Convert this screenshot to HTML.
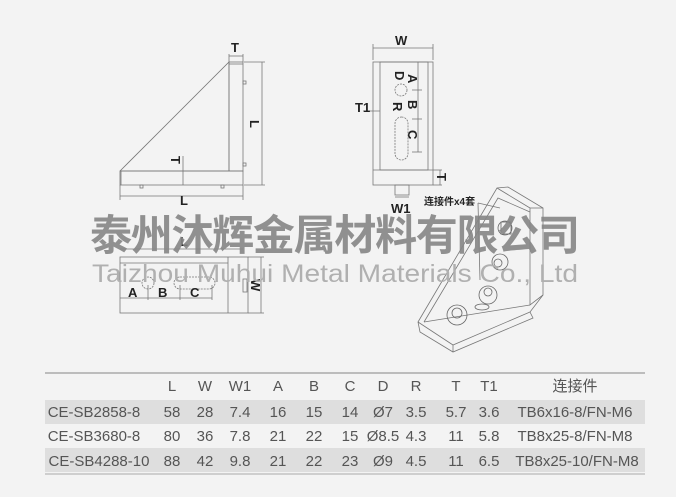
<!DOCTYPE html>
<html><head><meta charset="utf-8"><style>
html,body{margin:0;padding:0;background:#f3f3f3;}
svg{display:block;font-family:"Liberation Sans","Noto Sans CJK SC",sans-serif;}
</style></head><body>
<svg width="676" height="497" viewBox="0 0 676 497" xmlns="http://www.w3.org/2000/svg">
<rect width="676" height="497" fill="#f3f3f3"/>
<g stroke="#777" stroke-width="0.8" fill="none">
<polyline points="120,171 229,62 229,171 120,171"/>
<rect x="120" y="171" width="123" height="14"/>
<rect x="229" y="62" width="14" height="109"/>
<line x1="229" y1="64" x2="243" y2="64"/>
<line x1="121" y1="171" x2="121" y2="185"/>
<rect x="140" y="185" width="3" height="3"/><rect x="221" y="185" width="3" height="3"/>
<rect x="243" y="81" width="3" height="3"/><rect x="243" y="163" width="3" height="3"/>
<line x1="229" y1="56" x2="243" y2="56"/><line x1="229" y1="54" x2="229" y2="62"/><line x1="243" y1="54" x2="243" y2="62"/>
<line x1="244" y1="62" x2="265" y2="62"/><line x1="244" y1="185" x2="265" y2="185"/>
<line x1="262" y1="62" x2="262" y2="185"/>
<line x1="183" y1="156" x2="183" y2="185"/>
<line x1="120" y1="185" x2="120" y2="200"/><line x1="243" y1="185" x2="243" y2="200"/>
<line x1="120" y1="196" x2="243" y2="196"/>
<rect x="120" y="257" width="128" height="56"/>
<line x1="120" y1="263" x2="228" y2="263"/>
<line x1="228" y1="257" x2="228" y2="313"/>
<rect x="243" y="279" width="4" height="13"/>
<line x1="120" y1="249" x2="243" y2="249"/>
<line x1="248" y1="257" x2="264" y2="257"/><line x1="248" y1="313" x2="264" y2="313"/>
<line x1="261" y1="257" x2="261" y2="313"/>
<circle cx="148" cy="283" r="6" stroke-dasharray="2,1"/>
<rect x="174" y="277" width="41" height="12" rx="6" stroke-dasharray="2,1"/>
<line x1="120" y1="298" x2="212" y2="298"/>
<line x1="148" y1="285" x2="148" y2="300"/><line x1="180" y1="285" x2="180" y2="300"/><line x1="212" y1="285" x2="212" y2="300"/>
<rect x="373" y="62" width="60" height="123"/>
<rect x="380" y="62" width="48" height="108"/>
<line x1="373" y1="170" x2="433" y2="170"/>
<rect x="395" y="185" width="14" height="10"/>
<line x1="373" y1="48" x2="433" y2="48"/><line x1="373" y1="44" x2="373" y2="60"/><line x1="433" y1="44" x2="433" y2="60"/>
<circle cx="401" cy="90" r="6" stroke-dasharray="2,1"/>
<rect x="395" y="117" width="13" height="43" rx="6.5" stroke-dasharray="2,1"/>
<line x1="418" y1="62" x2="418" y2="152"/>
<line x1="412" y1="90" x2="422" y2="90"/><line x1="412" y1="119" x2="422" y2="119"/><line x1="412" y1="152" x2="422" y2="152"/>
<line x1="363" y1="111" x2="380" y2="111"/>
<line x1="433" y1="170" x2="442" y2="170"/><line x1="433" y1="185" x2="442" y2="185"/><line x1="440" y1="170" x2="440" y2="185"/>
<line x1="395" y1="197" x2="409" y2="197"/>
<polygon points="418,322 497,188 508,187 543,208 543,295 530,312 533,318 453,352 420,332"/>
<polyline points="418,322 453,345 530,312"/>
<polyline points="453,345 453,352"/>
<polyline points="497,188 530,208 530,305 543,295"/>
<line x1="530" y1="208" x2="543" y2="208"/>
<polyline points="424,322 498,198 530,212"/>
<line x1="424" y1="322" x2="530" y2="305"/>
<line x1="478" y1="203" x2="500" y2="208"/>
<line x1="478" y1="203" x2="480" y2="280"/>
<g stroke="#666">
<circle cx="505" cy="228" r="7"/><rect x="501" y="222" width="10" height="12"/>
<circle cx="500" cy="262" r="8"/><circle cx="498" cy="263" r="4"/>
<circle cx="488" cy="295" r="9"/><circle cx="488" cy="292" r="4"/>
<circle cx="457" cy="315" r="10"/><circle cx="457" cy="313" r="5"/>
<ellipse cx="482" cy="307" rx="7" ry="3"/>
</g>
</g>
<g font-size="13" fill="#222" font-weight="bold">
<text x="231" y="52">T</text>
<text x="250" y="130" transform="rotate(90 255 125)">L</text>
<text x="180" y="205">L</text>
<text x="172" y="165" transform="rotate(90 176 160)">T</text>
<text x="180" y="246">L</text>
<text x="128" y="297">A</text>
<text x="158" y="297">B</text>
<text x="190" y="297">C</text>
<text x="250" y="290" transform="rotate(90 256 285)">W</text>
<text x="395" y="45">W</text>
<text x="408" y="82" transform="rotate(90 412 78)">A</text>
<text x="392" y="78" transform="rotate(90 397 76)">D</text>
<text x="408" y="108" transform="rotate(90 412 104)">B</text>
<text x="393" y="110" transform="rotate(90 397 106)">R</text>
<text x="408" y="138" transform="rotate(90 412 134)">C</text>
<text x="355" y="112">T1</text>
<text x="437" y="181" transform="rotate(90 441 177)">T</text>
<text x="391" y="213">W1</text>
<text x="424" y="205" font-size="10">连接件x4套</text>
</g>
<text x="90" y="250" font-size="42" font-weight="bold" fill="#858585" fill-opacity="0.9" font-family="'Noto Sans CJK SC',sans-serif" textLength="490">泰州沐辉金属材料有限公司</text>
<text x="92" y="282" font-size="25" fill="#b0b0b0" textLength="486" lengthAdjust="spacingAndGlyphs">Taizhou  Muhui  Metal  Materials  Co., Ltd</text>
<line x1="45" y1="373" x2="645" y2="373" stroke="#aaa" stroke-width="1.5"/>
<rect x="45" y="400" width="600" height="24" fill="#dedede"/>
<rect x="45" y="448" width="600" height="24" fill="#dedede"/>
<line x1="45" y1="474" x2="645" y2="474" stroke="#aaa" stroke-width="1"/>
<g font-size="15" fill="#555" text-anchor="middle">
<g><text x="172" y="391">L</text><text x="205" y="391">W</text><text x="240" y="391">W1</text><text x="278" y="391">A</text><text x="314" y="391">B</text><text x="350" y="391">C</text><text x="383" y="391">D</text><text x="416" y="391">R</text><text x="456" y="391">T</text><text x="489" y="391">T1</text><text x="575" y="391">连接件</text></g>
<g><text x="94" y="417">CE-SB2858-8</text><text x="172" y="417">58</text><text x="205" y="417">28</text><text x="240" y="417">7.4</text><text x="278" y="417">16</text><text x="314" y="417">15</text><text x="350" y="417">14</text><text x="383" y="417">Ø7</text><text x="416" y="417">3.5</text><text x="456" y="417">5.7</text><text x="489" y="417">3.6</text><text x="575" y="417">TB6x16-8/FN-M6</text></g>
<g><text x="94" y="441">CE-SB3680-8</text><text x="172" y="441">80</text><text x="205" y="441">36</text><text x="240" y="441">7.8</text><text x="278" y="441">21</text><text x="314" y="441">22</text><text x="350" y="441">15</text><text x="383" y="441">Ø8.5</text><text x="416" y="441">4.3</text><text x="456" y="441">11</text><text x="489" y="441">5.8</text><text x="575" y="441">TB8x25-8/FN-M8</text></g>
<g><text x="99" y="466">CE-SB4288-10</text><text x="172" y="466">88</text><text x="205" y="466">42</text><text x="240" y="466">9.8</text><text x="278" y="466">21</text><text x="314" y="466">22</text><text x="350" y="466">23</text><text x="383" y="466">Ø9</text><text x="416" y="466">4.5</text><text x="456" y="466">11</text><text x="489" y="466">6.5</text><text x="577" y="466">TB8x25-10/FN-M8</text></g>
</g>
</svg>
</body></html>
